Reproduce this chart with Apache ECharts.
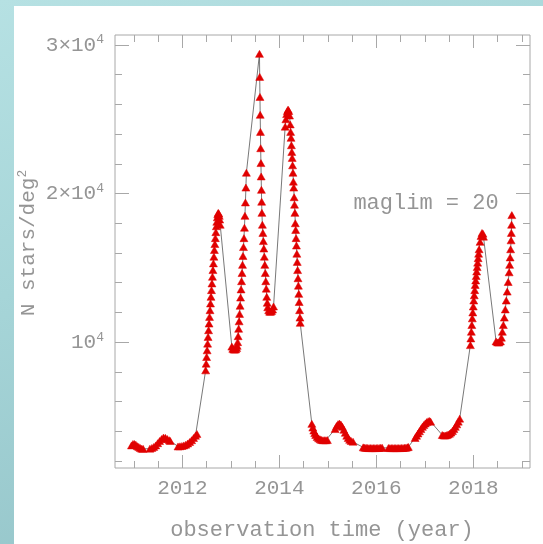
<!DOCTYPE html>
<html>
<head>
<meta charset="utf-8">
<script src="https://cdn.jsdelivr.net/npm/echarts@6/dist/echarts.min.js"></script>
<style>
  html, body { margin: 0; padding: 0; }
  body {
    width: 543px; height: 544px; overflow: hidden;
    background: linear-gradient(160deg, #b6e1e3 0%, #a6d5d8 40%, #8fbfc4 100%);
  }
  #main { width: 543px; height: 544px; }
</style>
</head>
<body>
<div id="main"></div>
<script>
// observation epochs (year) and star density (N stars / deg^2)
var obsTime = [
  // 2011 a
  2010.95, 2010.98, 2011.01, 2011.04, 2011.07, 2011.10, 2011.13, 2011.16, 2011.19,
  // 2011 b
  2011.33, 2011.37, 2011.41, 2011.45, 2011.49, 2011.53, 2011.57, 2011.61, 2011.65, 2011.69, 2011.73, 2011.75,
  // 2012 a
  2011.91, 2011.95, 2011.99, 2012.03, 2012.07, 2012.11, 2012.15, 2012.19, 2012.23, 2012.27, 2012.30,
  // 2012 b
  2012.48, 2012.49, 2012.50, 2012.51, 2012.52, 2012.53, 2012.54, 2012.55, 2012.56, 2012.57, 2012.58,
  2012.59, 2012.60, 2012.61, 2012.62, 2012.63, 2012.64, 2012.65, 2012.66, 2012.67, 2012.68, 2012.69,
  2012.70, 2012.71, 2012.72, 2012.73, 2012.74, 2012.75, 2012.76, 2012.77, 2012.78,
  // 2013 a
  2013.02, 2013.04, 2013.06, 2013.08, 2013.10, 2013.12, 2013.13, 2013.14, 2013.15, 2013.16, 2013.17,
  2013.18, 2013.19, 2013.20, 2013.21, 2013.22, 2013.23, 2013.24, 2013.25, 2013.26, 2013.27, 2013.28,
  2013.29, 2013.30, 2013.31, 2013.32,
  // 2013 b
  2013.590, 2013.595, 2013.600, 2013.605, 2013.610, 2013.615, 2013.620, 2013.625, 2013.630, 2013.635,
  2013.640, 2013.650, 2013.66, 2013.67, 2013.68, 2013.69, 2013.70, 2013.71, 2013.72, 2013.73, 2013.74,
  2013.75, 2013.76, 2013.78, 2013.80, 2013.82, 2013.84, 2013.86, 2013.88,
  // 2014 a
  2014.120, 2014.135, 2014.150, 2014.165, 2014.180, 2014.195, 2014.210, 2014.225, 2014.233, 2014.241,
  2014.249, 2014.257, 2014.265, 2014.273, 2014.281, 2014.289, 2014.297, 2014.305, 2014.313, 2014.321,
  2014.329, 2014.337, 2014.345, 2014.353, 2014.361, 2014.369, 2014.377, 2014.385, 2014.393, 2014.401,
  2014.409, 2014.417, 2014.425, 2014.430,
  // 2014 b
  2014.67, 2014.69, 2014.71, 2014.73, 2014.75, 2014.78, 2014.81, 2014.84, 2014.87, 2014.90, 2014.93,
  2014.96, 2014.99,
  // 2015 a
  2015.15, 2015.18, 2015.21, 2015.24, 2015.27, 2015.30, 2015.33, 2015.36, 2015.39, 2015.42, 2015.45,
  2015.48, 2015.52,
  // 2015 b
  2015.73, 2015.76, 2015.79, 2015.82, 2015.85, 2015.88, 2015.91, 2015.94, 2015.97, 2016.00, 2016.03,
  2016.06, 2016.09, 2016.12,
  // 2016 b
  2016.25, 2016.28, 2016.31, 2016.34, 2016.37, 2016.40, 2016.43, 2016.46, 2016.49, 2016.52, 2016.55,
  2016.58, 2016.61, 2016.64, 2016.66,
  // 2017 a
  2016.80, 2016.83, 2016.86, 2016.89, 2016.92, 2016.95, 2016.98, 2017.01, 2017.04, 2017.07, 2017.10,
  2017.12,
  // 2017 b
  2017.36, 2017.39, 2017.42, 2017.45, 2017.48, 2017.51, 2017.54, 2017.57, 2017.60, 2017.63, 2017.66,
  2017.69, 2017.72,
  // 2018 a
  2017.94, 2017.95, 2017.96, 2017.97, 2017.98, 2017.99, 2018.00, 2018.01, 2018.02, 2018.03, 2018.04,
  2018.05, 2018.06, 2018.07, 2018.08, 2018.09, 2018.10, 2018.11, 2018.12, 2018.14, 2018.16, 2018.18,
  2018.20, 2018.21,
  // 2018 b
  2018.47, 2018.50, 2018.53, 2018.56, 2018.58, 2018.60, 2018.62, 2018.64, 2018.66, 2018.68, 2018.70,
  2018.72, 2018.74, 2018.75, 2018.76, 2018.77, 2018.78, 2018.785, 2018.79, 2018.795
];

var nStars = [
  // 2011 a
  3050, 3150, 3150, 3100, 3000, 2950, 2880, 2830, 2820,
  // 2011 b
  2830, 2880, 2950, 3050, 3200, 3350, 3480, 3580, 3560, 3480, 3400, 3350,
  // 2012 a
  2980, 2990, 3010, 3050, 3100, 3180, 3280, 3400, 3550, 3700, 3820,
  // 2012 b
  8100, 8550, 9000, 9450, 9900, 10350, 10800, 11250, 11700, 12150, 12600,
  13050, 13500, 13950, 14400, 14850, 15300, 15750, 16200, 16600, 17000, 17400,
  17800, 18100, 18400, 18600, 18700, 18650, 18500, 18250, 17900,
  // 2013 a
  9700, 9550, 9500, 9500, 9520, 9600, 9750, 10000, 10400, 10900, 11400,
  11900, 12450, 13000, 13550, 14100, 14650, 15200, 15800, 16400, 17000, 17700,
  18500, 19400, 20400, 21400,
  // 2013 b
  29400, 27850, 26500, 25300, 24150, 23050, 22050, 21150, 20250, 19450,
  18700, 17900, 17350, 16800, 16300, 15750, 15200, 14650, 14100, 13600, 13050,
  12650, 12350, 12150, 12050, 12050, 12100, 12200, 12400,
  // 2014 a
  24500, 25000, 25350, 25550, 25650, 25550, 25250, 24650, 24150, 23750,
  23250, 22800, 22400, 21900, 21400, 20800, 20400, 19750, 19250, 18700,
  18000, 17550, 17000, 16500, 15950, 15400, 14850, 14300, 13800, 13250,
  12700, 12150, 11650, 11300,
  // 2014 b
  4500, 4250, 4050, 3880, 3750, 3620, 3530, 3460, 3420, 3400, 3400,
  3400, 3410,
  // 2015 a
  4150, 4350, 4480, 4520, 4450, 4300, 4100, 3900, 3700, 3550, 3430,
  3350, 3300,
  // 2015 b
  2920, 2900, 2890, 2880, 2870, 2870, 2870, 2870, 2870, 2870, 2880,
  2880, 2890, 2900,
  // 2016 b
  2880, 2870, 2870, 2870, 2870, 2870, 2870, 2870, 2870, 2880, 2880,
  2890, 2900, 2920, 2950,
  // 2017 a
  3550, 3700, 3850, 4000, 4150, 4300, 4420, 4530, 4620, 4680, 4700,
  4650,
  // 2017 b
  3750, 3720, 3720, 3740, 3780, 3840, 3920, 4020, 4150, 4300, 4470,
  4650, 4850,
  // 2018 a
  9800, 10250, 10700, 11150, 11600, 12000, 12400, 12800, 13150, 13500, 13850,
  14150, 14450, 14750, 15050, 15350, 15650, 15950, 16250, 16750, 17150, 17350,
  17300, 17100,
  // 2018 b
  10050, 9980, 9980, 10050, 10300, 10700, 11150, 11650, 12200, 12800, 13400,
  14050, 14700, 15200, 15700, 16250, 16850, 17350, 17900, 18550
];

var xMajorTicks = [2012, 2014, 2016, 2018];
var xMinorTicks = [2011, 2011.5, 2012, 2012.5, 2013, 2013.5, 2014, 2014.5, 2015, 2015.5,
                   2016, 2016.5, 2017, 2017.5, 2018, 2018.5, 2019];
var yMajorTicks = [10000, 20000, 30000];
var yMinorTicks = [2000, 4000, 6000, 8000, 10000, 12000, 14000, 16000, 18000, 20000,
                   22000, 24000, 26000, 28000, 30000];
var yLabelText = { 10000: '{m|10}{s|4}', 20000: '{m|2×10}{s|4}', 30000: '{m|3×10}{s|4}' };

var xMin = 2010.61, xMax = 2019.17;
var yMin = 1530, yMax = 30670;

var frameColor = '#a8a8a8';
var textColor = '#959595';
var font = '"Liberation Mono", "DejaVu Sans Mono", monospace';

var chartDom = document.getElementById('main');
var myChart = echarts.init(chartDom);
var option;

function xAxisDef(pos, ticks, len, withLabel) {
  return {
    type: 'value', position: pos, min: xMin, max: xMax,
    axisLine: { show: false },
    splitLine: { show: false },
    axisTick: { show: true, inside: true, length: len, customValues: ticks,
                lineStyle: { color: frameColor, width: 1 } },
    axisLabel: { show: withLabel, customValues: ticks, margin: 10,
                 color: textColor, fontFamily: font, fontSize: 21,
                 formatter: function (v) { return String(Math.round(v)); } }
  };
}

function yAxisDef(pos, ticks, len, withLabel) {
  return {
    type: 'value', position: pos, min: yMin, max: yMax,
    axisLine: { show: false },
    splitLine: { show: false },
    axisTick: { show: true, inside: true, length: len, customValues: ticks,
                lineStyle: { color: frameColor, width: 1 } },
    axisLabel: { show: withLabel, customValues: ticks, margin: 11,
                 color: textColor, fontFamily: font,
                 formatter: function (v) { return yLabelText[Math.round(v)] || ''; },
                 rich: {
                   m: { fontSize: 21, fontFamily: font, color: textColor },
                   s: { fontSize: 13, fontFamily: font, color: textColor, padding: [0, 0, 10, 0] }
                 } }
  };
}

option = {
  animation: false,
  backgroundColor: 'transparent',
  grid: {
    left: 115, right: 13, top: 35, bottom: 76,
    show: true, borderColor: frameColor, borderWidth: 1, backgroundColor: 'transparent',
    outerBoundsMode: 'none'
  },
  graphic: [
    { type: 'rect', z: -10, shape: { x: 14, y: 6, width: 529, height: 538 },
      style: { fill: '#ffffff' } },
    { type: 'text', x: 426, y: 203,
      style: { text: 'maglim = 20', font: '22px ' + font, fill: textColor,
               align: 'center', verticalAlign: 'middle' } },
    { type: 'text', x: 322, y: 530,
      style: { text: 'observation time (year)', font: '22px ' + font, fill: textColor,
               align: 'center', verticalAlign: 'middle' } },
    { type: 'text', x: 28, y: 243, rotation: Math.PI / 2,
      style: { text: '{m|N stars/deg}{s|2}', align: 'center', verticalAlign: 'middle',
               rich: {
                 m: { fontSize: 21, fontFamily: font, fill: textColor },
                 s: { fontSize: 13, fontFamily: font, fill: textColor, padding: [0, 0, 10, 0] }
               } } }
  ],
  xAxis: [
    xAxisDef('bottom', xMajorTicks, 13, true),
    xAxisDef('bottom', xMinorTicks, 7, false),
    xAxisDef('top', xMajorTicks, 13, false),
    xAxisDef('top', xMinorTicks, 7, false)
  ],
  yAxis: [
    yAxisDef('left', yMajorTicks, 14, true),
    yAxisDef('left', yMinorTicks, 7, false),
    yAxisDef('right', yMajorTicks, 14, false),
    yAxisDef('right', yMinorTicks, 7, false)
  ],
  series: [
    {
      type: 'line',
      xAxisIndex: 0,
      yAxisIndex: 0,
      data: obsTime.map(function (t, i) { return [t, nStars[i]]; }),
      symbol: 'triangle',
      symbolSize: [8, 7],
      showSymbol: true,
      lineStyle: { color: '#555555', width: 0.8 },
      itemStyle: { color: '#e00000', borderColor: '#e00000', borderWidth: 0.5 }
    }
  ]
};

if (chartDom && myChart) {
  myChart.setOption(option);
} else {
  console.error('Failed to initialize the chart');
}
</script>
</body>
</html>
